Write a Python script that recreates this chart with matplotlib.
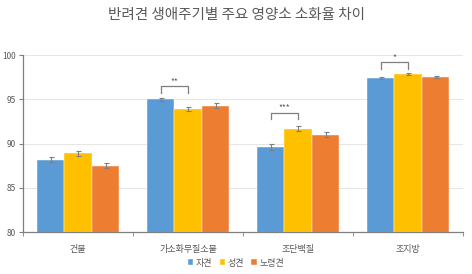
import numpy as np
import matplotlib
matplotlib.use('Agg')
import matplotlib.pyplot as plt

plt.rcParams['font.family'] = ['Noto Sans CJK KR', 'DejaVu Sans']

categories = ["건물", "가소화무질소물", "조단백질", "조지방"]
series_names = ["자견", "성견", "노령견"]
puppy = [88.2, 95.0, 89.6, 97.4]
adult = [88.9, 93.9, 91.7, 97.9]
senior = [87.5, 94.3, 91.0, 97.5]
puppy_err = [0.3, 0.2, 0.3, 0.1]
adult_err = [0.3, 0.2, 0.3, 0.1]
senior_err = [0.3, 0.3, 0.3, 0.1]
# significance brackets: (category index, label, bracket top)
sig_marks = [(1, "**", 96.5), (2, "***", 93.5), (3, "*", 99.2)]
y_ticks = [80, 85, 90, 95, 100]

colors = ["#5B9BD5", "#FFC000", "#ED7D31"]
text_gray = "#595959"

fig = plt.figure(figsize=(4.72, 2.74), dpi=100)
ax = fig.add_axes([0.049, 0.153, 0.932, 0.646])

x = np.arange(len(categories))
w = 0.25
data = [puppy, adult, senior]
errs = [puppy_err, adult_err, senior_err]
for i, (vals, err) in enumerate(zip(data, errs)):
    ax.bar(x + (i - 1) * w, vals, w, color=colors[i], label=series_names[i],
           edgecolor="white", linewidth=0.3,
           yerr=err, error_kw=dict(ecolor="#7f7f7f", elinewidth=0.8, capsize=1.8, capthick=0.8),
           zorder=3)

for idx, label, top in sig_marks:
    x0 = idx - w
    x1 = idx
    ax.plot([x0, x0, x1, x1], [top - 0.75, top, top, top - 0.75], color="#7f7f7f", lw=0.9, zorder=4)
    ax.text((x0 + x1) / 2, top + 0.05, label, ha="center", va="bottom", fontsize=6, color=text_gray)

ax.set_ylim(80, 100)
ax.set_xlim(-0.5, len(categories) - 0.5)
ax.set_yticks(y_ticks)
ax.set_yticklabels([str(t) for t in y_ticks], fontsize=6, color=text_gray)
ax.yaxis.grid(True, color="#e6e6e6", lw=0.8, zorder=0)
ax.set_axisbelow(True)

ax.set_xticks(x)
ax.set_xticklabels(categories, fontsize=6.5, color=text_gray)
ax.tick_params(axis="x", length=0, pad=9)
ax.set_xticks(np.arange(-0.5, len(categories)), minor=True)
ax.tick_params(axis="x", which="minor", length=3, color="#7f7f7f", direction="out")
ax.tick_params(axis="y", length=3, color="#7f7f7f", pad=2)

for s in ["top", "right"]:
    ax.spines[s].set_visible(False)
for s in ["left", "bottom"]:
    ax.spines[s].set_color("#7f7f7f")
    ax.spines[s].set_linewidth(0.9)

fig.text(0.5, 0.945, "반려견 생애주기별 주요 영양소 소화율 차이", ha="center", va="center",
         fontsize=10.5, color=text_gray, fontweight="medium")

fig.legend(loc="center", bbox_to_anchor=(0.5, 0.04), ncol=3, frameon=False, fontsize=6.5,
           handlelength=0.6, handleheight=0.6, handletextpad=0.3, columnspacing=0.8,
           labelcolor=text_gray)

fig.savefig("out.png", dpi=100)
